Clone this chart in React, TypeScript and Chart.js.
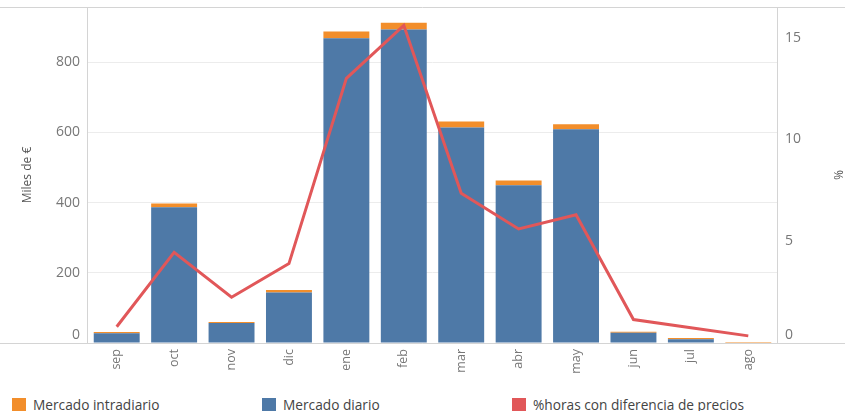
import React, { useEffect, useRef } from "react";
import { Chart, registerables } from "chart.js";

Chart.register(...registerables);

const months = ["sep", "oct", "nov", "dic", "ene", "feb", "mar", "abr", "may", "jun", "jul", "ago"];
const mercadoDiario = [28, 387, 57, 144, 868, 893, 614, 449, 609, 29, 11, 0];
const mercadoIntradiario = [3, 10, 3, 7, 19, 19, 17, 14, 14, 3, 3, 3];
const horasDiferencia = [0.8, 4.45, 2.25, 3.9, 13.0, 15.6, 7.35, 5.6, 6.3, 1.15, 0.75, 0.35];
const leftTicks = [0, 200, 400, 600, 800];
const rightTicks = [0, 5, 10, 15];

const BLUE = "#4e79a7";
const ORANGE = "#f28e2b";
const RED = "#e15759";
const FONT = "'Open Sans', sans-serif";

const framePlugin = {
  id: "frame",
  beforeDatasetsDraw(chart: any) {
    const { ctx, chartArea, width } = chart;
    ctx.save();
    ctx.strokeStyle = "#d4d4d4";
    ctx.lineWidth = 1;
    ctx.beginPath();
    ctx.moveTo(0, chartArea.top + 0.5);
    ctx.lineTo(width, chartArea.top + 0.5);
    ctx.moveTo(0, chartArea.bottom + 0.5);
    ctx.lineTo(width, chartArea.bottom + 0.5);
    ctx.moveTo(chartArea.left - 0.5, chartArea.top);
    ctx.lineTo(chartArea.left - 0.5, chartArea.bottom);
    ctx.moveTo(chartArea.right + 0.5, chartArea.top);
    ctx.lineTo(chartArea.right + 0.5, chartArea.bottom);
    ctx.stroke();
    ctx.restore();
  },
};

// raise the zero label above the axis line, as in the reference
const liftZero = (v: any) => (Number(v) === 0 ? ["0", ""] : String(v));

export default function App() {
  const ref = useRef<HTMLCanvasElement | null>(null);

  useEffect(() => {
    if (!ref.current) return;
    const chart = new Chart(ref.current, {
      type: "bar",
      data: {
        labels: months,
        datasets: [
          {
            type: "line",
            label: "%horas con diferencia de precios",
            data: horasDiferencia,
            borderColor: RED,
            backgroundColor: RED,
            borderWidth: 3,
            pointRadius: 0,
            tension: 0,
            yAxisID: "y1",
            order: 0,
          } as any,
          {
            label: "Mercado diario",
            data: mercadoDiario,
            backgroundColor: BLUE,
            yAxisID: "y",
            stack: "s",
            order: 1,
            barPercentage: 0.8,
            categoryPercentage: 1,
          },
          {
            label: "Mercado intradiario",
            data: mercadoIntradiario,
            backgroundColor: ORANGE,
            yAxisID: "y",
            stack: "s",
            order: 1,
            barPercentage: 0.8,
            categoryPercentage: 1,
          },
        ],
      },
      options: {
        animation: false,
        responsive: false,
        maintainAspectRatio: false,
        layout: { padding: { top: 7, left: 0, right: 0, bottom: 0 } },
        plugins: {
          legend: { display: false },
          tooltip: { enabled: false },
        },
        scales: {
          x: {
            stacked: true,
            grid: { display: false, drawTicks: false },
            border: { display: false },
            ticks: {
              minRotation: 90,
              maxRotation: 90,
              color: "#777",
              font: { family: FONT, size: 12.5 },
              padding: 6,
            },
            afterFit: (s: any) => {
              s.height = 388 - 343;
              s.paddingLeft = 0;
              s.paddingRight = 0;
            },
          },
          y: {
            stacked: true,
            position: "left",
            min: 0,
            max: 957,
            afterBuildTicks: (s: any) => {
              s.ticks = leftTicks.map((v) => ({ value: v }));
            },
            grid: { color: "#ececec", drawTicks: false },
            border: { display: false },
            ticks: {
              color: "#777",
              font: { family: FONT, size: 14 },
              padding: 8,
              callback: liftZero,
            },
            title: {
              display: true,
              text: "Miles de €",
              color: "#555",
              font: { family: FONT, size: 12 },
              padding: { top: 20, bottom: 0 },
            },
            afterFit: (s: any) => {
              s.width = 88;
              s.paddingTop = 0;
              s.paddingBottom = 0;
            },
          },
          y1: {
            position: "right",
            min: 0,
            max: 16.5,
            afterBuildTicks: (s: any) => {
              s.ticks = rightTicks.map((v) => ({ value: v }));
            },
            grid: { display: false, drawTicks: false },
            border: { display: false },
            ticks: {
              color: "#777",
              font: { family: FONT, size: 14 },
              padding: 8,
              callback: liftZero,
            },
            title: {
              display: true,
              text: "%",
              color: "#555",
              font: { family: FONT, size: 12 },
              padding: 0,
            },
            afterFit: (s: any) => {
              s.width = 845 - 777;
              s.paddingTop = 0;
              s.paddingBottom = 0;
            },
          },
        },
      },
      plugins: [framePlugin],
    });
    return () => chart.destroy();
  }, []);

  const legend = [
    { label: "Mercado intradiario", color: ORANGE, left: 12 },
    { label: "Mercado diario", color: BLUE, left: 262 },
    { label: "%horas con diferencia de precios", color: RED, left: 512 },
  ];

  return (
    <div style={{ position: "absolute", left: 0, top: 0, width: 845, height: 411, background: "#fff", overflow: "hidden" }}>
      <canvas ref={ref} width={845} height={388} style={{ display: "block", width: 845, height: 388 }} />
      {legend.map((l) => (
        <div
          key={l.label}
          style={{
            position: "absolute",
            left: l.left,
            top: 395,
            display: "flex",
            alignItems: "center",
            fontFamily: FONT,
            fontSize: 13.7,
            color: "#444",
            whiteSpace: "nowrap",
          }}
        >
          <span style={{ display: "inline-block", width: 14, height: 14, background: l.color, marginRight: 7 }} />
          <span>{l.label}</span>
        </div>
      ))}
    </div>
  );
}
